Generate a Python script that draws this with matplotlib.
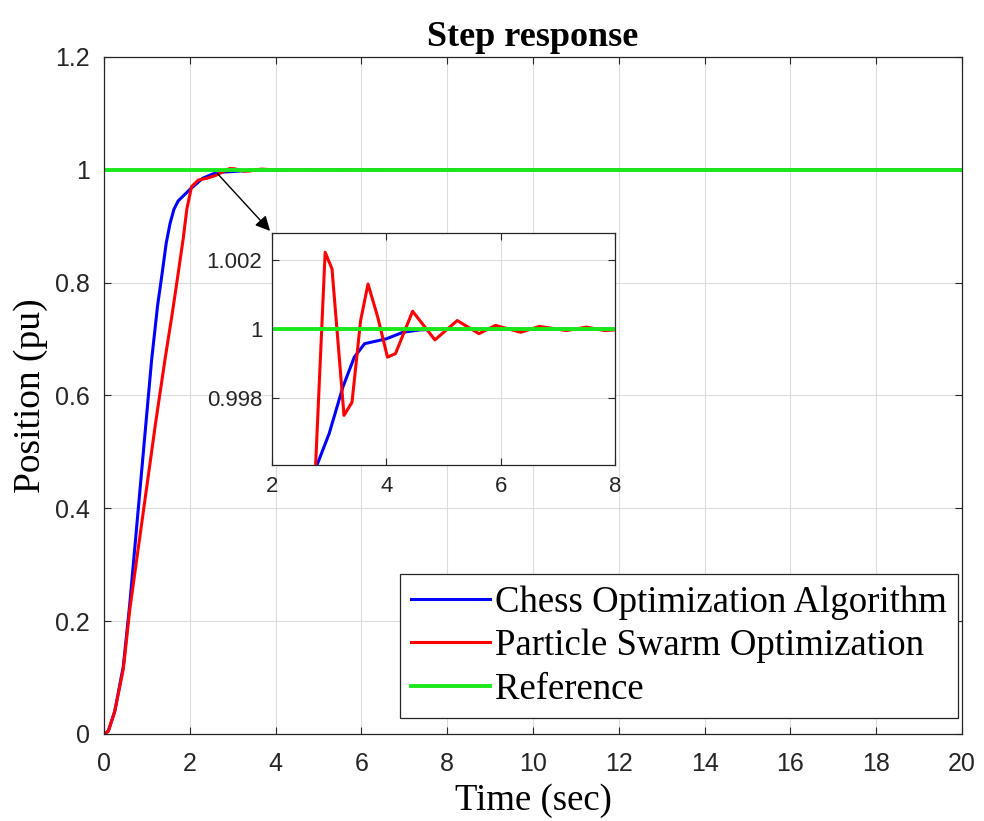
import numpy as np
import matplotlib
matplotlib.use("Agg")
import matplotlib.pyplot as plt
from matplotlib.ticker import FuncFormatter

# step response samples
t_coa = [0, 0.1, 0.25, 0.45, 0.6, 0.8, 1.0, 1.11, 1.25, 1.345, 1.45, 1.54, 1.63, 1.73,
         2.0, 2.3, 2.55, 2.79, 3.0, 3.24, 3.44, 3.62, 4.0, 4.29, 4.59, 5.0, 20]
y_coa = [0, 0.005, 0.04, 0.12, 0.23, 0.40, 0.57, 0.663, 0.76, 0.811, 0.87, 0.905, 0.93, 0.945,
         0.965, 0.985, 0.993, 0.99606, 0.99696, 0.99831, 0.99918, 0.99957, 0.99971, 0.9999,
         0.99997, 0.99999, 1.0]

t_pso = [0, 0.1, 0.25, 0.45, 0.6, 0.8, 1.0, 1.2, 1.42, 1.6, 1.73, 1.85, 1.93, 2.04, 2.2,
         2.4, 2.6, 2.93, 3.05, 3.26, 3.40, 3.55, 3.68, 3.85, 4.02, 4.16, 4.46, 4.85, 5.24,
         5.62, 5.91, 6.35, 6.68, 7.15, 7.5, 7.82, 8.3, 20]
y_pso = [0, 0.005, 0.04, 0.115, 0.22, 0.33, 0.44, 0.55, 0.663, 0.75, 0.817, 0.88, 0.93,
         0.97, 0.982, 0.985, 0.99, 1.00222, 1.00174, 0.99749, 0.99787, 1.00024, 1.0013,
         1.00034, 0.99918, 0.99928, 1.00051, 0.99968, 1.00024, 0.99986, 1.0001, 0.9999,
         1.00007, 0.99995, 1.00005, 0.99995, 1.0, 1.0]

t_ref = [0, 20]
y_ref = [1, 1]

labels = ["Chess Optimization Algorithm", "Particle Swarm Optimization", "Reference"]
colors = ["#0000ff", "#ff0000", "#1be81b"]

serif = "Liberation Serif"
sans = "Liberation Sans"

def style_axes(a, fs, xpad, ypad):
    a.grid(True, color="#dcdcdc", lw=0.8)
    a.set_axisbelow(True)
    a.tick_params(direction="in", top=True, right=True, length=5, width=0.8,
                  labelsize=fs, colors="#262626")
    a.tick_params(axis="x", pad=xpad)
    a.tick_params(axis="y", pad=ypad)
    for lab in a.get_xticklabels() + a.get_yticklabels():
        lab.set_fontfamily(sans)
    for s in a.spines.values():
        s.set_color("#262626")
        s.set_linewidth(0.9)

fig = plt.figure(figsize=(9.84, 8.21), dpi=100)
ax = fig.add_axes([0.1057, 0.106, 0.8719, 0.8246])

ax.plot(t_coa, y_coa, color=colors[0], lw=2.2, label=labels[0])
ax.plot(t_pso, y_pso, color=colors[1], lw=2.2, label=labels[1])
ax.plot(t_ref, y_ref, color=colors[2], lw=2.8, label=labels[2])

ax.set_xlim(0, 20)
ax.set_ylim(0, 1.2)
ax.set_xticks(np.arange(0, 21, 2))
ax.set_yticks([0, 0.2, 0.4, 0.6, 0.8, 1.0, 1.2])
ax.yaxis.set_major_formatter(FuncFormatter(lambda v, p: "%g" % round(v, 4)))
style_axes(ax, 18, 13, 10)

ax.set_title("Step response", fontfamily=serif, fontweight="bold", fontsize=26, pad=8)
ax.set_xlabel("Time (sec)", fontfamily=serif, fontsize=26.5, labelpad=5)
ax.set_ylabel("Position (pu)", fontfamily=serif, fontsize=27, labelpad=5)

leg = ax.legend(loc="lower right", bbox_to_anchor=(0.9953, 0.0236),
                prop={"family": serif, "size": 26.5}, frameon=True,
                fancybox=False, framealpha=1, edgecolor="#262626", borderpad=0.3,
                handlelength=2.15, handletextpad=0.13, labelspacing=0.25,
                borderaxespad=0)
leg.get_frame().set_linewidth(0.9)

# inset zoom
ax_in = fig.add_axes([0.2764, 0.4336, 0.3486, 0.2826])
ax_in.plot(t_coa, y_coa, color=colors[0], lw=2.2)
ax_in.plot(t_pso, y_pso, color=colors[1], lw=2.2)
ax_in.plot(t_ref, y_ref, color=colors[2], lw=2.8)
ax_in.set_xlim(2, 8)
ax_in.set_ylim(0.99605, 1.00278)
ax_in.set_xticks([2, 4, 6, 8])
ax_in.set_yticks([0.998, 1.0, 1.002])
ax_in.yaxis.set_major_formatter(FuncFormatter(lambda v, p: "%g" % round(v, 4)))
style_axes(ax_in, 16, 8, 7)

ax_in.annotate("", xy=(0, 1), xycoords="axes fraction",
               xytext=(2.6, 0.997), textcoords=ax.transData,
               arrowprops=dict(arrowstyle="-|>", color="k", lw=1, mutation_scale=22),
               annotation_clip=False)

fig.savefig("out.png", dpi=100)
